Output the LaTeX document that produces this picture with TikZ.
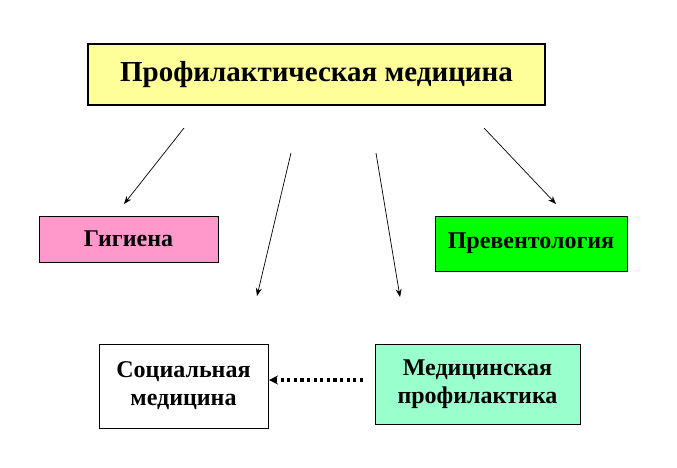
\documentclass[tikz,border=0pt]{standalone}
\usepackage{fontspec}
\setmainfont{Liberation Serif}
\usetikzlibrary{arrows.meta}
\begin{document}
\begin{tikzpicture}[x=1pt,y=-1pt,
  box/.style={draw=black,line width=1pt,inner sep=0pt,align=center},
  small/.style={font=\bfseries\fontsize{24}{28}\selectfont},
  arr/.style={-{Stealth[length=8pt,width=6pt]},line width=0.7pt},
  darr/.style={-{Stealth[length=9pt,width=9pt]},line width=3.2pt,dash pattern=on 3.2pt off 3.4pt}]
\useasboundingbox (0,0) rectangle (677,467);
\node[box,fill={rgb,255:red,255;green,255;blue,153},line width=1.6pt,minimum width=457pt,minimum height=61pt,font=\bfseries\fontsize{29}{32}\selectfont] (top) at (316.5,74.5) {Профилактическая медицина};
\node[box,small,fill={rgb,255:red,255;green,153;blue,204},minimum width=179pt,minimum height=46pt] (gig) at (128.5,239) {Гигиена};
\node[box,small,fill={rgb,255:red,0;green,255;blue,0},minimum width=192pt,minimum height=55pt] (prev) at (531,243.5) {Превентология};
\node[box,small,fill=white,minimum width=169pt,minimum height=84pt] (soc) at (183.5,386) {Социальная\\медицина};
\node[box,small,fill={rgb,255:red,153;green,255;blue,204},minimum width=205pt,minimum height=80pt] (med) at (477.5,384) {Медицинская\\профилактика};
\coordinate (a1s) at (184,128); \coordinate (a1e) at (124,204);
\coordinate (a2s) at (291,153); \coordinate (a2e) at (257,296);
\coordinate (a3s) at (376,153); \coordinate (a3e) at (400,297);
\coordinate (a4s) at (484,128); \coordinate (a4e) at (556,204);
\coordinate (ds) at (363,380); \coordinate (de) at (269,380);
\draw[arr] (a1s) -- (a1e);
\draw[arr] (a2s) -- (a2e);
\draw[arr] (a3s) -- (a3e);
\draw[arr] (a4s) -- (a4e);
\draw[darr] (ds) -- (de);
\end{tikzpicture}
\end{document}
